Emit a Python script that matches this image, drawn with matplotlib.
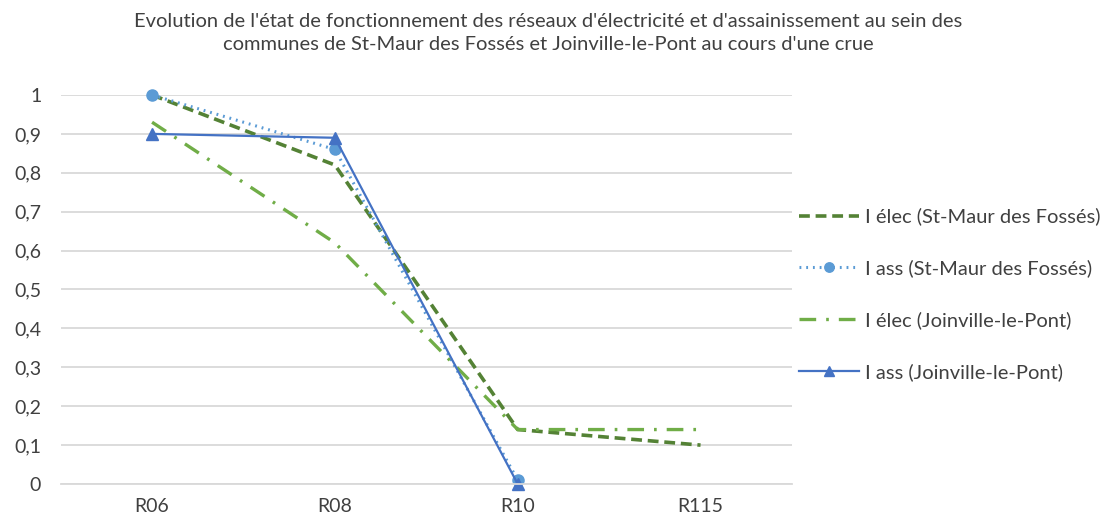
import matplotlib.pyplot as plt
from matplotlib.ticker import FuncFormatter

plt.rcParams['font.family'] = ['Lato', 'DejaVu Sans']

categories = ["R06", "R08", "R10", "R115"]
elec_stmaur = [1.0, 0.82, 0.14, 0.10]
ass_stmaur = [1.0, 0.86, 0.01]
elec_joinville = [0.93, 0.62, 0.14, 0.14]
ass_joinville = [0.90, 0.89, 0.0]

labels = ["I élec (St-Maur des Fossés)", "I ass (St-Maur des Fossés)",
          "I élec (Joinville-le-Pont)", "I ass (Joinville-le-Pont)"]

txt = "#404040"

fig = plt.figure(figsize=(11.03, 5.19), dpi=100)
ax = fig.add_axes([0.055, 0.0674, 0.663, 0.7496])

x = list(range(len(categories)))
ax.plot(x, elec_stmaur, color="#548235", lw=2.6, ls=(0, (3, 1.6)), label=labels[0])
ax.plot(x[:3], ass_stmaur, color="#5B9BD5", lw=2.2, ls=(0, (0.6, 1.6)),
        marker="o", ms=8, label=labels[1])
ax.plot(x, elec_joinville, color="#70AD47", lw=2.4, ls=(0, (5, 3, 0.8, 3)), label=labels[2])
ax.plot(x[:3], ass_joinville, color="#4472C4", lw=1.6, marker="^", ms=8, label=labels[3])

ax.set_xlim(-0.5, 3.5)
ax.set_ylim(0, 1)
ax.set_xticks(x)
ax.set_xticklabels(categories)
ax.set_yticks([i / 10 for i in range(11)])


def fmt(v, p):
    if v in (0, 1):
        return str(int(v))
    return f"{v:.1f}".replace(".", ",")


ax.yaxis.set_major_formatter(FuncFormatter(fmt))
ax.grid(axis="y", color="#D9D9D9", lw=1.3)
ax.set_axisbelow(True)
for s in ["top", "right", "left"]:
    ax.spines[s].set_visible(False)
ax.spines["bottom"].set_color("#D9D9D9")
ax.spines["bottom"].set_linewidth(1.3)
ax.tick_params(length=0, labelsize=14, colors=txt, pad=10)
ax.tick_params(axis="y", pad=14)
for l in ax.lines:
    l.set_clip_on(False)

fig.text(0.497, 0.975, "Evolution de l'état de fonctionnement des réseaux d'électricité et d'assainissement au sein des\n"
         "communes de St-Maur des Fossés et Joinville-le-Pont au cours d'une crue",
         ha="center", va="top", fontsize=14.5, color=txt, linespacing=1.45)

fig.legend(loc="center left", bbox_to_anchor=(0.708, 0.433), frameon=False,
           fontsize=14.5, labelcolor=txt, labelspacing=1.68, handlelength=3.0,
           handletextpad=0.25, markerscale=0.85)

fig.savefig("out.png", dpi=100)
